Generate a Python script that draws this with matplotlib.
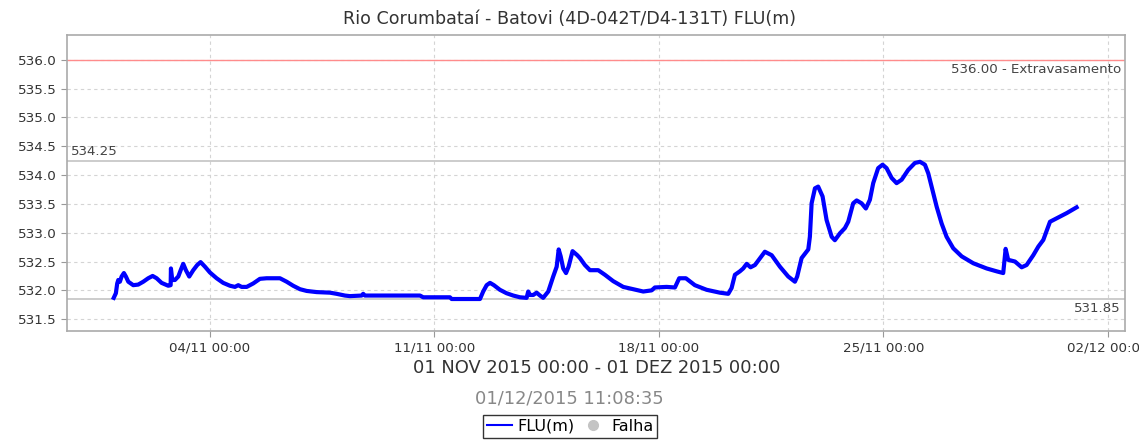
import numpy as np
import pandas as pd
import matplotlib
matplotlib.use("Agg")
import matplotlib.pyplot as plt
import matplotlib.dates as mdates
from matplotlib.lines import Line2D

# FLU(m) readings: hours since 01/11/2015 00:00 and level (m)
hours = [0.0, 1.6, 2.6, 3.4, 4.6, 5.9, 7.6, 9.1, 10.9, 14.6, 18.3, 22.1, 25.8, 29.1,
         32.1, 35.8, 40.8, 42.6, 42.8, 43.8, 45.8, 48.3, 50.1, 52.0, 54.0, 56.5, 59.5,
         62.5, 65.0, 68.3, 72.0, 77.0, 81.9, 87.0, 90.7, 93.2, 95.7, 99.5, 104.4, 109.4,
         114.4, 124.4, 129.4, 134.3, 139.4, 144.4, 151.8, 161.8, 166.8, 173.0, 176.8,
         185.5, 186.7, 188.0, 229.2, 231.6, 251.6, 252.9, 274.1, 276.5, 279.1, 281.6,
         284.5, 289.0, 294.0, 299.0, 304.0, 309.0, 310.2, 311.5, 314.0, 316.5, 319.0,
         321.4, 325.2, 328.9, 331.5, 333.0, 334.5, 336.4, 338.5, 340.4, 343.4, 346.9,
         348.9, 352.6, 356.4, 362.6, 367.6, 373.8, 381.3, 388.8, 396.3, 402.6, 405.0,
         413.8, 420.0, 423.2, 428.2, 434.9, 443.7, 453.6, 459.9, 462.4, 464.9, 468.6,
         471.1, 473.7, 476.6, 479.9, 487.3, 492.4, 498.6, 504.8, 509.8, 511.5, 514.8,
         519.8, 521.0, 522.3, 524.8, 527.2, 530.5, 533.5, 537.3, 539.7, 543.5, 547.2,
         549.7, 553.4, 556.0, 559.7, 562.9, 565.9, 568.4, 572.1, 575.4, 578.4, 582.2,
         585.9, 589.7, 594.6, 599.6, 603.4, 607.1, 609.6, 612.1, 615.9, 619.6, 623.3,
         628.3, 634.6, 643.3, 653.3, 660.8, 665.7, 667.5, 669.4, 674.5, 679.5, 683.2,
         688.2, 692.0, 695.7, 700.7, 705.7, 713.2, 720.6]
levels = [531.87, 531.95, 532.12, 532.18, 532.15, 532.24, 532.30, 532.24, 532.15, 532.09,
          532.10, 532.15, 532.21, 532.25, 532.21, 532.13, 532.08, 532.09, 532.38, 532.18,
          532.18, 532.24, 532.35, 532.46, 532.35, 532.24, 532.35, 532.44, 532.49, 532.41,
          532.31, 532.21, 532.13, 532.08, 532.06, 532.09, 532.06, 532.06, 532.12, 532.20,
          532.21, 532.21, 532.15, 532.08, 532.02, 531.99, 531.97, 531.96, 531.94, 531.91,
          531.90, 531.91, 531.94, 531.91, 531.91, 531.88, 531.88, 531.85, 531.85, 531.98,
          532.09, 532.13, 532.09, 532.01, 531.95, 531.91, 531.88, 531.87, 531.98, 531.92,
          531.92, 531.96, 531.91, 531.87, 531.98, 532.24, 532.41, 532.71, 532.59, 532.38,
          532.30, 532.41, 532.68, 532.61, 532.56, 532.44, 532.35, 532.35, 532.27, 532.16,
          532.06, 532.02, 531.98, 532.00, 532.05, 532.06, 532.05, 532.21, 532.21, 532.09,
          532.01, 531.96, 531.94, 532.04, 532.27, 532.33, 532.38, 532.46, 532.40, 532.44,
          532.67, 532.61, 532.41, 532.24, 532.15, 532.24, 532.56, 532.71, 532.93, 533.51,
          533.77, 533.80, 533.63, 533.22, 532.93, 532.87, 532.99, 533.08, 533.19, 533.51,
          533.56, 533.51, 533.42, 533.57, 533.86, 534.12, 534.18, 534.12, 533.95, 533.86,
          533.92, 534.09, 534.21, 534.23, 534.18, 534.03, 533.80, 533.45, 533.16, 532.93,
          532.73, 532.59, 532.47, 532.38, 532.33, 532.30, 532.72, 532.53, 532.50, 532.40,
          532.44, 532.61, 532.76, 532.875, 533.19, 533.25, 533.34, 533.44]

start = pd.Timestamp("2015-11-01 00:00")
times = start + pd.to_timedelta(hours, unit="h")

flood_level = 536.00
upper_ref = 534.25
lower_ref = 531.85

tick_dates = pd.to_datetime(["2015-11-04", "2015-11-11", "2015-11-18", "2015-11-25", "2015-12-02"])
y_ticks = [531.5, 532.0, 532.5, 533.0, 533.5, 534.0, 534.5, 535.0, 535.5, 536.0]

plt.rcParams['font.family'] = ['DejaVu Sans']

fig = plt.figure(figsize=(11.39, 4.44), dpi=100, facecolor='white')
ax = fig.add_axes([0.0588, 0.2545, 0.9289, 0.6667])

x0 = pd.Timestamp("2015-10-30 13:00")
x1 = pd.Timestamp("2015-12-02 12:50")
ax.set_xlim(x0, x1)
ax.set_ylim(531.295, 536.43)

ax.grid(True, color='#d4d4d4', linestyle=(0, (3, 3)), linewidth=0.8)
ax.set_axisbelow(True)

# reference levels
ax.axhline(flood_level, color='#ff8c8c', linewidth=1.0, zorder=2)
ax.axhline(upper_ref, color='#c8c8c8', linewidth=1.3, zorder=2)
ax.axhline(lower_ref, color='#c8c8c8', linewidth=1.3, zorder=2)

ax.plot(times, levels, color='#0000ff', linewidth=3.0, solid_joinstyle='round', zorder=3)

pad = pd.Timedelta(hours=3)
ax.text(x0 + pad, upper_ref + 0.05, f"{upper_ref:.2f}", fontsize=9.6, color='#444444',
        ha='left', va='bottom')
ax.text(x1 - pad, flood_level - 0.06, f"{flood_level:.2f} - Extravasamento", fontsize=9.6,
        color='#444444', ha='right', va='top')
ax.text(x1 - pad, lower_ref - 0.06, f"{lower_ref:.2f}", fontsize=9.6, color='#444444',
        ha='right', va='top')

ax.set_xticks(tick_dates)
ax.xaxis.set_major_formatter(mdates.DateFormatter('%d/%m %H:%M'))
ax.set_yticks(y_ticks)
ax.yaxis.set_major_formatter(matplotlib.ticker.FormatStrFormatter('%.1f'))
ax.tick_params(axis='both', colors='#999999', labelcolor='#333333', length=4, width=0.8)
ax.tick_params(axis='y', labelsize=9.7)
ax.tick_params(axis='x', labelsize=9.6)
for s in ax.spines.values():
    s.set_color('#aaaaaa')
    s.set_linewidth(1.2)

fig.text(0.5, 0.958, "Rio Corumbataí - Batovi (4D-042T/D4-131T) FLU(m)", ha='center',
         va='center', fontsize=12.6, color='#333333')
fig.text(0.5235, 0.172, "01 NOV 2015 00:00 - 01 DEZ 2015 00:00", ha='center', va='center',
         fontsize=12.9, color='#333333')
fig.text(0.500, 0.103, "01/12/2015 11:08:35", ha='center', va='center', fontsize=12.9,
         color='#888888')

handles = [Line2D([], [], color='#0000ff', linewidth=1.5),
           Line2D([], [], color='#c4c4c4', marker='o', linestyle='None', markersize=7)]
leg = fig.legend(handles, ["FLU(m)", "Falha"], loc='center', bbox_to_anchor=(0.5005, 0.0405),
                 ncol=2, fontsize=11.5, frameon=True, fancybox=False, handlelength=1.6,
                 handletextpad=0.3, columnspacing=0.4, borderpad=0.25, borderaxespad=0)
leg.get_frame().set_edgecolor('black')
leg.get_frame().set_linewidth(1.0)

fig.savefig("out.png", dpi=100, facecolor='white')
